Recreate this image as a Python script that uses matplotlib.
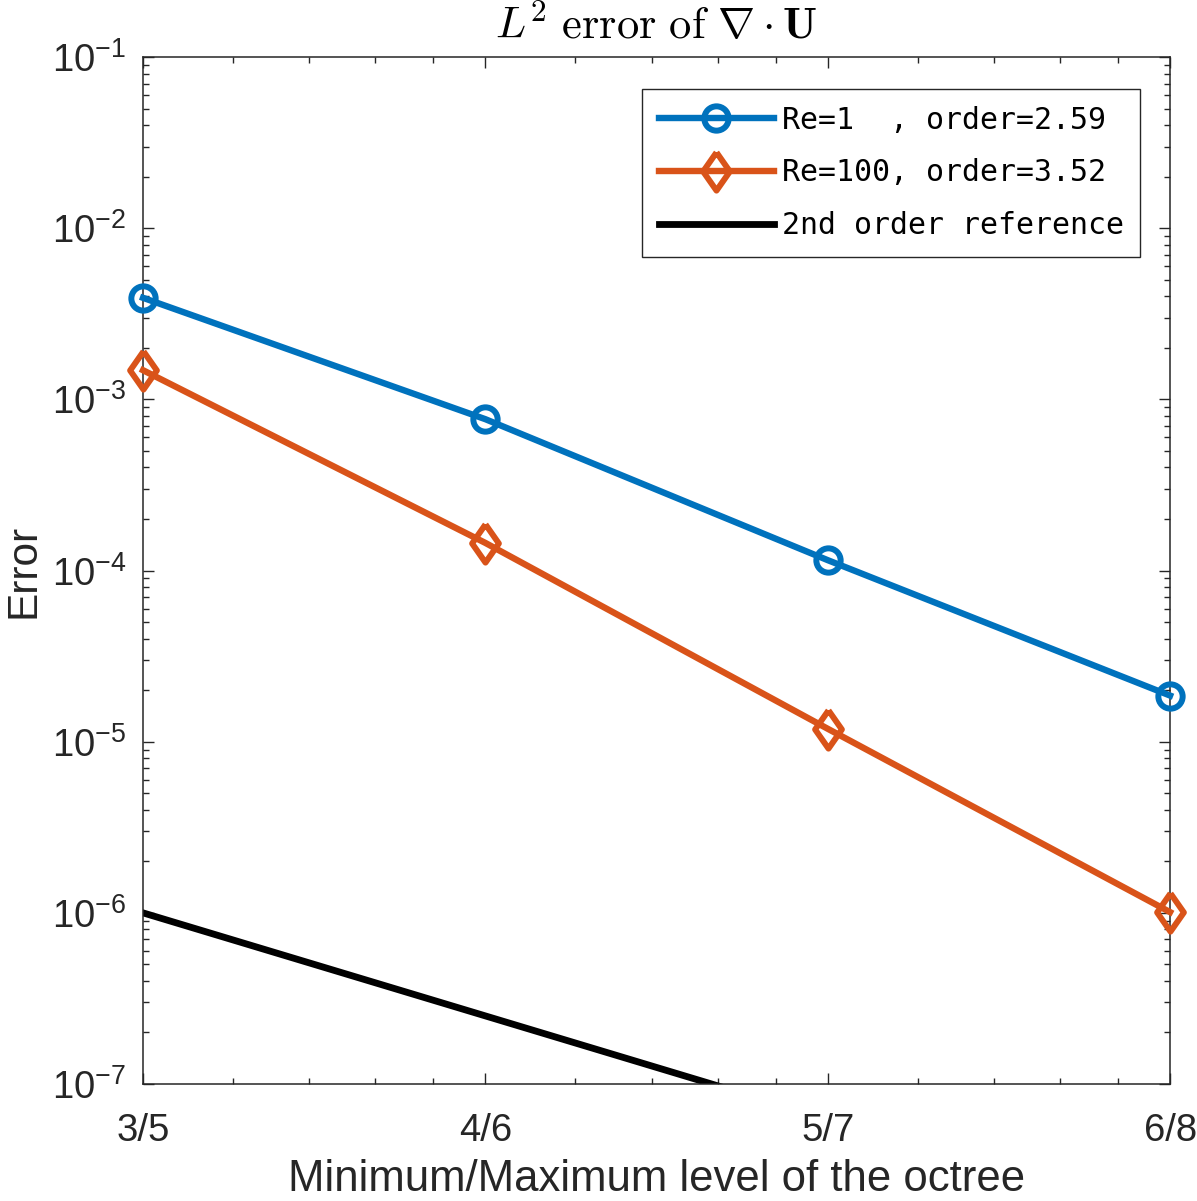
import numpy as np
import matplotlib
import matplotlib.pyplot as plt
from matplotlib.ticker import LogLocator, FixedLocator, NullFormatter

matplotlib.use('Agg')

plt.rcParams['font.family'] = ['Liberation Sans', 'DejaVu Sans']
plt.rcParams['mathtext.fontset'] = 'custom'
plt.rcParams['mathtext.rm'] = 'Liberation Sans'
plt.rcParams['mathtext.it'] = 'Liberation Sans:italic'
plt.rcParams['mathtext.bf'] = 'Liberation Sans:bold'
plt.rcParams['axes.unicode_minus'] = False

# data
levels = ['3/5', '4/6', '5/7', '6/8']
re1_err = [3.92e-3, 7.66e-4, 1.15e-4, 1.86e-5]
re100_err = [1.48e-3, 1.45e-4, 1.19e-5, 1.01e-6]
ref_err = [1e-6, 2.5e-7, 6.25e-8, 1.5625e-8]
series_labels = ['Re=1  , order=2.59', 'Re=100, order=3.52', '2nd order reference']

blue = '#0072BD'
orange = '#D95319'
dark = '#262626'

# matlab style diamond (wider than matplotlib's thin diamond)
diamond = [(0, 1), (0.7, 0), (0, -1), (-0.7, 0), (0, 1)]

x = 2.0 ** np.arange(len(levels))

fig = plt.figure(figsize=(11.97, 12.01), dpi=100)
ax = fig.add_axes([0.1195, 0.0974, 0.858, 0.8551])

ax.plot(x, re1_err, color=blue, lw=4.6, marker='o', ms=17.5, mew=4.3,
        mfc='none', clip_on=False, zorder=3, label=series_labels[0])
ax.plot(x, re100_err, color=orange, lw=4.6, marker=diamond, ms=27.5, mew=4.3,
        mfc='none', clip_on=False, zorder=3, label=series_labels[1])
ax.plot(x, ref_err, color='black', lw=4.9, label=series_labels[2], zorder=2)

ax.set_xscale('log', base=2)
ax.set_yscale('log')
ax.set_xlim(x[0], x[-1])
ax.set_ylim(1e-7, 1e-1)

ax.xaxis.set_major_locator(FixedLocator(x))
ax.set_xticklabels(levels)
ax.xaxis.set_minor_locator(LogLocator(base=2, subs=[1.2, 1.4, 1.6, 1.8], numticks=20))
ax.xaxis.set_minor_formatter(NullFormatter())
ax.yaxis.set_major_locator(LogLocator(base=10, numticks=20))
ax.yaxis.set_minor_locator(LogLocator(base=10, subs=np.arange(2, 10), numticks=20))
ax.yaxis.set_minor_formatter(NullFormatter())

ax.tick_params(which='both', direction='in', top=True, right=True,
               color=dark, width=1.0, labelcolor=dark, labelsize=27.5)
ax.tick_params(which='major', length=8)
ax.tick_params(which='minor', length=4.3)
ax.tick_params(axis='x', pad=21)
ax.tick_params(axis='y', pad=12)
for sp in ax.spines.values():
    sp.set_color(dark)
    sp.set_linewidth(1.1)

ax.set_xlabel('Minimum/Maximum level of the octree', fontsize=31.5, color=dark, labelpad=7)
ax.set_ylabel('Error', fontsize=30.5, color=dark, labelpad=6)
ax.set_title(r'$L^2\ \mathrm{error\ of}\ \nabla \cdot \mathbf{U}$', fontsize=32,
             math_fontfamily='cm', pad=13)

leg = ax.legend(loc='upper right', bbox_to_anchor=(0.9708, 0.9688), borderaxespad=0,
                prop={'family': 'DejaVu Sans Mono', 'size': 21.5},
                handlelength=3.85, handletextpad=0.27, borderpad=0.55,
                labelspacing=0.8, fancybox=False, framealpha=1, edgecolor=dark)
leg.get_frame().set_linewidth(1.0)

fig.savefig('out.png', dpi=100)
